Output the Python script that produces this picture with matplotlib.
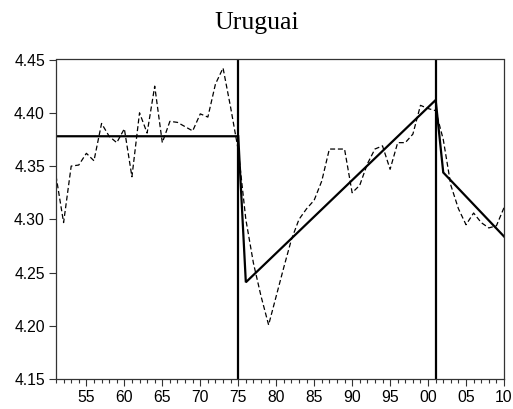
import matplotlib
matplotlib.use("Agg")
import matplotlib.pyplot as plt
from matplotlib.ticker import MultipleLocator, FuncFormatter

# series (dashed), one value per year
years = list(range(1951, 2011))
values = [4.341, 4.297, 4.350, 4.351, 4.362, 4.355, 4.390, 4.378, 4.372, 4.385,
          4.340, 4.400, 4.381, 4.425, 4.372, 4.392, 4.391, 4.387, 4.383, 4.399,
          4.396, 4.427, 4.442, 4.405, 4.365, 4.300, 4.259, 4.228, 4.201, 4.228,
          4.255, 4.281, 4.300, 4.310, 4.318, 4.336, 4.366, 4.366, 4.366, 4.325,
          4.332, 4.352, 4.366, 4.369, 4.347, 4.372, 4.372, 4.380, 4.407, 4.404,
          4.402, 4.375, 4.332, 4.310, 4.295, 4.306, 4.297, 4.292, 4.294, 4.311]

# segmented trend (solid), break points
trend_years = [1951, 1975, 1976, 2001, 2002, 2010]
trend_vals = [4.378, 4.378, 4.241, 4.412, 4.344, 4.284]

break_years = [1975, 2001]

fig = plt.figure(figsize=(5.13, 4.09), dpi=100)
ax = fig.add_axes([56 / 513, 29.7 / 409, 448 / 513, 319.8 / 409])

ax.plot(years, values, color="black", lw=0.9, linestyle=(0, (4, 2.2)))
ax.plot(trend_years, trend_vals, color="black", lw=1.6, solid_joinstyle="miter")
for b in break_years:
    ax.axvline(b, color="black", lw=1.6)

ax.set_xlim(1951, 2010)
ax.set_ylim(4.15, 4.45)

ax.xaxis.set_major_locator(MultipleLocator(5))
ax.xaxis.set_minor_locator(MultipleLocator(1))
ax.xaxis.set_major_formatter(FuncFormatter(lambda v, p: "%02d" % (int(round(v)) % 100)))
ax.yaxis.set_major_locator(MultipleLocator(0.05))
ax.yaxis.set_major_formatter(FuncFormatter(lambda v, p: "%.2f" % v))

for lab in ax.get_xticklabels() + ax.get_yticklabels():
    lab.set_fontfamily("Liberation Sans")
    lab.set_fontsize(11.3)

ax.tick_params(axis="both", which="major", direction="out", length=5, width=0.8,
               color="#333333", pad=3, labelcolor="black")
ax.tick_params(axis="x", which="minor", direction="out", length=3, width=0.8, color="#333333")
for s in ax.spines.values():
    s.set_linewidth(0.9)
    s.set_color("#333333")

fig.text(0.5, (409 - 29) / 409, "Uruguai", ha="center", va="baseline",
         family="Liberation Serif", fontsize=18.5)

fig.savefig("out.png", dpi=100)
